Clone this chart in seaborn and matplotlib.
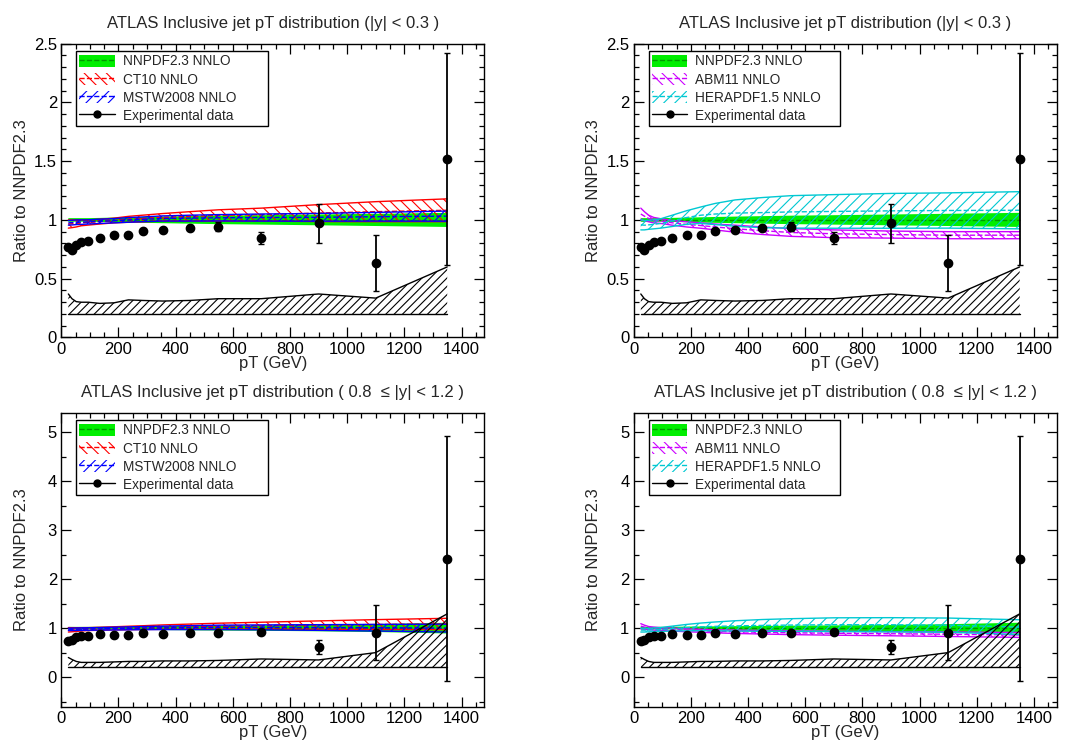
import numpy as np
import seaborn as sns
import matplotlib.pyplot as plt
from matplotlib.patches import Patch
from matplotlib.lines import Line2D
from matplotlib.ticker import MultipleLocator

# bin centres of the ATLAS inclusive jet measurement (GeV)
PT = [25, 37.5, 52.5, 70, 95, 135, 185, 235, 285, 355, 450, 550, 700, 900, 1100, 1350]

# ---- central rapidity bin, |y| < 0.3 ----
DATA_C = [0.773, 0.74, 0.79, 0.815, 0.824, 0.844, 0.869, 0.869, 0.903, 0.915,
          0.934, 0.943, 0.847, 0.971, 0.634, 1.52]
DATA_ERR_C = [0.01, 0.01, 0.01, 0.01, 0.01, 0.01, 0.01, 0.01, 0.012, 0.015,
              0.02, 0.035, 0.05, 0.165, 0.24, 0.9]
SYS_C = [0.37, 0.33, 0.305, 0.30, 0.30, 0.29, 0.295, 0.32, 0.315, 0.31,
         0.315, 0.33, 0.33, 0.37, 0.335, 0.60]
NNPDF_ERR_C = [0.015, 0.015, 0.015, 0.015, 0.015, 0.017, 0.02, 0.022, 0.025, 0.028,
               0.032, 0.036, 0.04, 0.046, 0.052, 0.06]
CT10_C = [0.965, 0.967, 0.97, 0.975, 0.978, 0.985, 0.995, 1.005, 1.012, 1.022,
          1.03, 1.038, 1.045, 1.058, 1.07, 1.082]
CT10_ERR_C = [0.035, 0.033, 0.03, 0.025, 0.022, 0.02, 0.02, 0.025, 0.028, 0.032,
              0.04, 0.048, 0.055, 0.072, 0.085, 0.097]
MSTW_C = [0.975, 0.977, 0.98, 0.981, 0.983, 0.988, 0.993, 1.0, 1.005, 1.012,
          1.015, 1.018, 1.02, 1.022, 1.027, 1.032]
MSTW_ERR_C = [0.02, 0.02, 0.02, 0.019, 0.018, 0.018, 0.018, 0.02, 0.02, 0.022,
              0.025, 0.027, 0.03, 0.033, 0.037, 0.043]
ABM_C = [1.05, 1.032, 1.012, 0.998, 0.99, 0.975, 0.962, 0.952, 0.94, 0.925,
         0.908, 0.893, 0.882, 0.875, 0.87, 0.87]
ABM_ERR_C = [0.05, 0.038, 0.028, 0.023, 0.02, 0.02, 0.022, 0.023, 0.025, 0.03,
             0.032, 0.033, 0.033, 0.03, 0.03, 0.03]
HERA_C = [0.958, 0.955, 0.958, 0.962, 0.97, 0.992, 1.02, 1.04, 1.05, 1.058,
          1.062, 1.068, 1.072, 1.077, 1.08, 1.082]
HERA_ERR_C = [0.043, 0.04, 0.038, 0.038, 0.04, 0.048, 0.058, 0.07, 0.09, 0.112,
              0.128, 0.138, 0.143, 0.148, 0.15, 0.158]

# ---- forward rapidity bin, 0.8 <= |y| < 1.2 ----
DATA_F = [0.728, 0.76, 0.823, 0.83, 0.843, 0.87, 0.857, 0.857, 0.89, 0.885,
          0.90, 0.89, 0.93, 0.61, 0.91, 2.415]
DATA_ERR_F = [0.015, 0.015, 0.015, 0.015, 0.015, 0.015, 0.015, 0.015, 0.015, 0.015,
              0.02, 0.02, 0.03, 0.14, 0.56, 2.5]
SYS_F = [0.40, 0.36, 0.32, 0.30, 0.30, 0.30, 0.31, 0.32, 0.32, 0.33,
         0.33, 0.34, 0.37, 0.35, 0.50, 1.29]
NNPDF_ERR_F = [0.025, 0.025, 0.025, 0.025, 0.025, 0.027, 0.03, 0.033, 0.036, 0.04,
               0.045, 0.05, 0.055, 0.065, 0.08, 0.11]
CT10_F = [0.965, 0.967, 0.97, 0.975, 0.98, 0.987, 0.995, 1.003, 1.01, 1.02,
          1.03, 1.04, 1.05, 1.062, 1.073, 1.085]
CT10_ERR_F = [0.045, 0.042, 0.038, 0.034, 0.03, 0.03, 0.032, 0.035, 0.038, 0.045,
              0.052, 0.06, 0.07, 0.085, 0.1, 0.115]
MSTW_F = [0.975, 0.976, 0.978, 0.98, 0.982, 0.985, 0.99, 0.995, 1.0, 1.005,
          1.01, 1.015, 1.015, 1.012, 1.008, 1.0]
MSTW_ERR_F = [0.025, 0.025, 0.025, 0.025, 0.025, 0.026, 0.028, 0.03, 0.032, 0.035,
              0.04, 0.045, 0.05, 0.058, 0.068, 0.08]
ABM_F = [1.04, 1.02, 1.0, 0.99, 0.98, 0.97, 0.955, 0.945, 0.935, 0.925,
         0.915, 0.905, 0.895, 0.885, 0.875, 0.86]
ABM_ERR_F = [0.05, 0.04, 0.032, 0.03, 0.03, 0.03, 0.03, 0.03, 0.032, 0.034,
             0.036, 0.038, 0.04, 0.042, 0.046, 0.05]
HERA_F = [0.96, 0.958, 0.96, 0.965, 0.972, 0.99, 1.01, 1.025, 1.035, 1.045,
          1.055, 1.062, 1.07, 1.068, 1.06, 1.02]
HERA_ERR_F = [0.04, 0.038, 0.036, 0.036, 0.04, 0.05, 0.065, 0.078, 0.09, 0.105,
              0.12, 0.13, 0.14, 0.145, 0.145, 0.15]

SYS_BASE = 0.2

TITLE_C = "ATLAS Inclusive jet pT distribution (|y| < 0.3 )"
TITLE_F = "ATLAS Inclusive jet pT distribution ( 0.8  \u2264 |y| < 1.2 )"

GREEN = "#00ee00"
DKGREEN = "#009900"

sns.set_style("ticks")
plt.rcParams["font.family"] = ["Liberation Sans", "DejaVu Sans"]
plt.rcParams["hatch.linewidth"] = 0.8


def hatched_band(ax, center, err, color, hatch):
    c = np.asarray(center)
    e = np.asarray(err)
    ax.fill_between(PT, c - e, c + e, facecolor="none", edgecolor=color,
                    hatch=hatch, linewidth=0, zorder=2)
    ax.plot(PT, c - e, color=color, lw=1.0, zorder=2)
    ax.plot(PT, c + e, color=color, lw=1.0, zorder=2)
    sns.lineplot(x=PT, y=center, ax=ax, color=color, linestyle="--", lw=1.0, zorder=2)


def draw_panel(ax, title, ylim, ymajor, yminor, data, data_err, sys_up, nn_err, others):
    nn = np.asarray(nn_err)
    ax.fill_between(PT, 1 - nn, 1 + nn, facecolor=GREEN, edgecolor="none", zorder=1)
    sns.lineplot(x=PT, y=[1.0] * len(PT), ax=ax, color=DKGREEN, linestyle="--",
                 lw=1.0, zorder=1)

    handles = [(Patch(facecolor=GREEN, edgecolor="none"),
                Line2D([], [], color=DKGREEN, ls="--", lw=1.0))]
    labels = ["NNPDF2.3 NNLO"]
    for name, c, e, color, hatch in others:
        hatched_band(ax, c, e, color, hatch)
        handles.append((Patch(facecolor="none", edgecolor=color, hatch=hatch, lw=0),
                        Line2D([], [], color=color, ls="--", lw=1.0)))
        labels.append(name)

    # experimental uncertainty band (offset, hatched black)
    ax.fill_between(PT, SYS_BASE, sys_up, facecolor="none", edgecolor="black",
                    hatch="////", linewidth=0, zorder=3)
    ax.plot(PT, sys_up, color="black", lw=1.0, zorder=3)
    ax.plot(PT, [SYS_BASE] * len(PT), color="black", lw=1.0, zorder=3)

    ax.errorbar(PT, data, yerr=data_err, fmt="o", color="black", ms=6,
                elinewidth=1.3, capsize=2, capthick=1.0, zorder=5)
    handles.append(Line2D([], [], color="black", marker="o", ms=5, lw=1.0))
    labels.append("Experimental data")

    ax.set_xlim(0, 1480)
    ax.set_ylim(*ylim)
    ax.xaxis.set_major_locator(MultipleLocator(200))
    ax.xaxis.set_minor_locator(MultipleLocator(50))
    ax.yaxis.set_major_locator(MultipleLocator(ymajor))
    ax.yaxis.set_minor_locator(MultipleLocator(yminor))
    ax.yaxis.set_major_formatter(plt.FuncFormatter(lambda v, p: f"{v:g}"))
    ax.tick_params(which="both", direction="in", top=True, right=True,
                   labelsize=12, width=0.9, colors="black")
    ax.tick_params(which="major", length=7, pad=3)
    ax.tick_params(which="minor", length=3.5)
    for sp in ax.spines.values():
        sp.set_linewidth(1.0)
        sp.set_color("black")

    ax.set_title(title, fontsize=12, pad=11)
    ax.set_xlabel("pT (GeV)", fontsize=12)
    ax.set_ylabel("Ratio to NNPDF2.3", fontsize=12)
    ax.xaxis.set_label_coords(0.5, -0.063)
    ax.yaxis.set_label_coords(-0.077, 0.5)

    leg = ax.legend(handles, labels, loc="upper left",
                    bbox_to_anchor=(0.036, 0.0, 0.452, 0.973), mode="expand",
                    borderaxespad=0, fontsize=9.8, frameon=True, fancybox=False,
                    edgecolor="black", framealpha=1, handlelength=2.6,
                    handleheight=1.0, labelspacing=0.3, borderpad=0.22,
                    handletextpad=0.6)
    leg.get_frame().set_linewidth(1.0)
    leg.set_zorder(10)


fig = plt.figure(figsize=(10.74, 7.5), dpi=100)
w, h = 0.394, 0.392
ax_tl = fig.add_axes([0.057, 0.550, w, h])
ax_tr = fig.add_axes([0.590, 0.550, w, h])
ax_bl = fig.add_axes([0.057, 0.058, w, h])
ax_br = fig.add_axes([0.590, 0.058, w, h])

draw_panel(ax_tl, TITLE_C, (0, 2.5), 0.5, 0.1, DATA_C, DATA_ERR_C, SYS_C, NNPDF_ERR_C,
           [("CT10 NNLO", CT10_C, CT10_ERR_C, "#ff0000", "\\\\\\"),
            ("MSTW2008 NNLO", MSTW_C, MSTW_ERR_C, "#0000ff", "///")])
draw_panel(ax_tr, TITLE_C, (0, 2.5), 0.5, 0.1, DATA_C, DATA_ERR_C, SYS_C, NNPDF_ERR_C,
           [("ABM11 NNLO", ABM_C, ABM_ERR_C, "#cc00ff", "\\\\\\"),
            ("HERAPDF1.5 NNLO", HERA_C, HERA_ERR_C, "#00c8d2", "///")])
draw_panel(ax_bl, TITLE_F, (-0.6, 5.4), 1, 0.5, DATA_F, DATA_ERR_F, SYS_F, NNPDF_ERR_F,
           [("CT10 NNLO", CT10_F, CT10_ERR_F, "#ff0000", "\\\\\\"),
            ("MSTW2008 NNLO", MSTW_F, MSTW_ERR_F, "#0000ff", "///")])
draw_panel(ax_br, TITLE_F, (-0.6, 5.4), 1, 0.5, DATA_F, DATA_ERR_F, SYS_F, NNPDF_ERR_F,
           [("ABM11 NNLO", ABM_F, ABM_ERR_F, "#cc00ff", "\\\\\\"),
            ("HERAPDF1.5 NNLO", HERA_F, HERA_ERR_F, "#00c8d2", "///")])

fig.savefig("out.png", dpi=100, facecolor="white")
